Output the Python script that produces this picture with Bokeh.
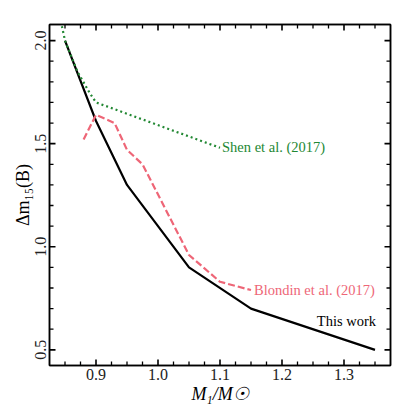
from bokeh.plotting import figure
from bokeh.models import LinearAxis, FixedTicker, Range1d, CustomJSTickFormatter, PrintfTickFormatter
from bokeh.embed import file_html
from bokeh.resources import INLINE
from bokeh.core.properties import value

# --- data ---
this_work_x = [0.85, 0.90, 0.95, 1.00, 1.05, 1.15, 1.35]
this_work_y = [2.00, 1.61, 1.30, 1.10, 0.90, 0.70, 0.50]

blondin_x = [0.88, 0.90, 0.93, 0.95, 0.975, 1.05, 1.10, 1.15]
blondin_y = [1.52, 1.64, 1.60, 1.47, 1.40, 0.96, 0.83, 0.79]

shen_x = [0.845, 0.85, 0.87, 0.89, 0.90, 1.10]
shen_y = [2.07, 2.00, 1.85, 1.745, 1.70, 1.48]

x_ticks = [0.9, 1.0, 1.1, 1.2, 1.3]
x_minor = [0.85, 0.875, 0.925, 0.95, 0.975, 1.025, 1.05, 1.075, 1.125,
           1.15, 1.175, 1.225, 1.25, 1.275, 1.325, 1.35]
y_ticks = [0.5, 1.0, 1.5, 2.0]
y_minor = [0.6, 0.7, 0.8, 0.9, 1.1, 1.2, 1.3, 1.4, 1.6, 1.7, 1.8, 1.9]

labels = ["This work", "Blondin et al. (2017)", "Shen et al. (2017)"]

X0, X1 = 0.825, 1.375
Y0, Y1 = 0.424, 2.078
FRAME = 341  # frame size in px (both directions)

BLACK = "#000000"
PINK = "#EE6677"
GREEN = "#228833"
FONT = "Liberation Serif"

p = figure(width=415, height=415, output_backend="svg", toolbar_location=None,
           x_range=Range1d(X0, X1), y_range=Range1d(Y0, Y1),
           x_axis_location=None, y_axis_location=None,
           min_border_left=49, min_border_right=25, min_border_top=24,
           min_border_bottom=50)
p.grid.visible = False
p.outline_line_color = BLACK
p.outline_line_width = 1.5
p.background_fill_color = "white"
p.border_fill_color = "white"

p.line(this_work_x, this_work_y, line_color=BLACK, line_width=2.2)
p.line(blondin_x, blondin_y, line_color=PINK, line_width=2.2, line_dash="7 3")
p.line(shen_x, shen_y, line_color=GREEN, line_width=2.2, line_dash="2 3")

p.text(x=[shen_x[-1]], y=[shen_y[-1]], text=[labels[2]], text_color=GREEN,
       text_font=value(FONT), text_font_size="14.5px", text_baseline="middle",
       text_align="left", x_offset=2, y_offset=-1)
p.text(x=[blondin_x[-1]], y=[blondin_y[-1]], text=[labels[1]], text_color=PINK,
       text_font=value(FONT), text_font_size="14.5px", text_baseline="middle",
       text_align="left", x_offset=3, y_offset=0)
p.text(x=[this_work_x[-1]], y=[this_work_y[-1]], text=[labels[0]], text_color=BLACK,
       text_font=value(FONT), text_font_size="14.5px", text_baseline="middle",
       text_align="right", x_offset=1, y_offset=-29)


# --- inward ticks on all four sides (drawn as short segments) ---
def px_to_dy(n):
    return n * (Y1 - Y0) / FRAME


def px_to_dx(n):
    return n * (X1 - X0) / FRAME


def x_side_ticks(xs, length, width):
    n = len(xs)
    p.segment(x0=xs, y0=[Y0] * n, x1=xs, y1=[Y0 + px_to_dy(length)] * n,
              line_color=BLACK, line_width=width)
    p.segment(x0=xs, y0=[Y1] * n, x1=xs, y1=[Y1 - px_to_dy(length)] * n,
              line_color=BLACK, line_width=width)


def y_side_ticks(ys, length, width):
    n = len(ys)
    p.segment(x0=[X0] * n, y0=ys, x1=[X0 + px_to_dx(length)] * n, y1=ys,
              line_color=BLACK, line_width=width)
    p.segment(x0=[X1] * n, y0=ys, x1=[X1 - px_to_dx(length)] * n, y1=ys,
              line_color=BLACK, line_width=width)


x_side_ticks(x_ticks, 6, 1.6)
x_side_ticks(x_minor, 4, 1.3)
y_side_ticks(y_ticks, 6, 1.6)
y_side_ticks(y_minor, 4, 1.3)


def frame_axis(ticks):
    """Axis line only (spacer next to the frame)."""
    ax = LinearAxis(ticker=FixedTicker(ticks=ticks),
                    formatter=CustomJSTickFormatter(code="return ''"))
    ax.axis_line_color = BLACK
    ax.axis_line_width = 1.5
    ax.major_tick_line_color = None
    ax.minor_tick_line_color = None
    ax.major_tick_in = 0
    ax.major_tick_out = 0
    ax.minor_tick_in = 0
    ax.minor_tick_out = 0
    ax.major_label_text_font_size = "0px"
    ax.major_label_standoff = 0
    ax.axis_label = None
    return ax


def label_axis(ticks, title):
    """Axis drawing tick labels and the title."""
    ax = LinearAxis(ticker=FixedTicker(ticks=ticks),
                    formatter=PrintfTickFormatter(format="%.1f"),
                    axis_label=title)
    ax.axis_line_color = None
    ax.major_tick_line_color = None
    ax.minor_tick_line_color = None
    ax.major_tick_in = 0
    ax.major_tick_out = 0
    ax.minor_tick_in = 0
    ax.minor_tick_out = 0
    ax.major_label_text_font = FONT
    ax.major_label_text_font_size = "16px"
    ax.major_label_text_color = "#222222"
    ax.major_label_standoff = 3
    ax.axis_label_text_font = FONT
    ax.axis_label_text_font_size = "18px"
    ax.axis_label_text_color = BLACK
    ax.axis_label_text_font_style = "normal"
    ax.axis_label_standoff = 1
    return ax


p.add_layout(frame_axis(x_ticks), "below")
p.add_layout(frame_axis(y_ticks), "left")
p.add_layout(frame_axis(x_ticks), "above")
p.add_layout(frame_axis(y_ticks), "right")

xlab = label_axis(x_ticks, "M₁/M☉")
xlab.axis_label_text_font_style = "italic"
ylab = label_axis(y_ticks, "Δm₁₅(B)")
ylab.major_label_orientation = "vertical"
ylab.axis_label_standoff = 0
p.add_layout(xlab, "below")
p.add_layout(ylab, "left")

open("out.html", "w").write(file_html(p, INLINE))
